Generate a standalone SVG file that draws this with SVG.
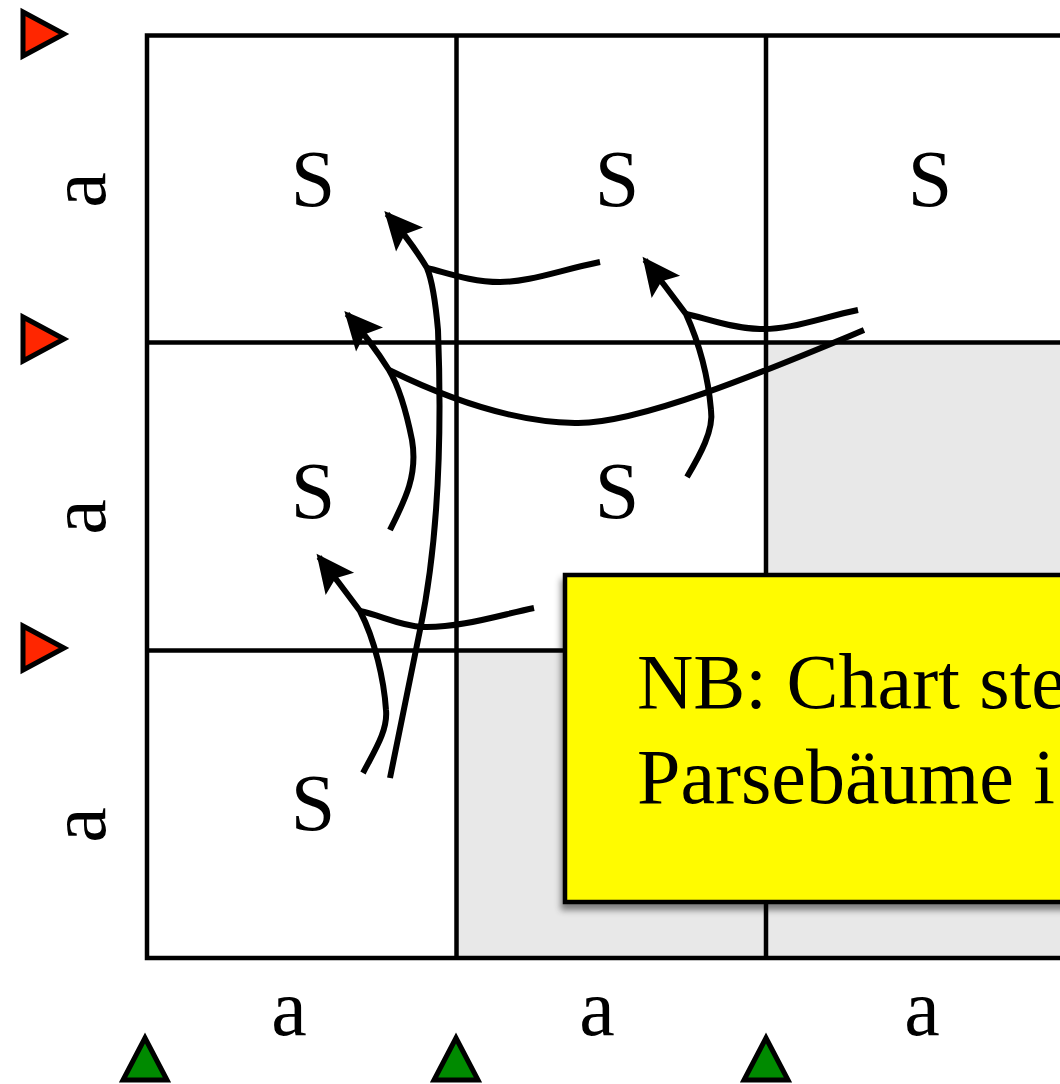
<svg xmlns="http://www.w3.org/2000/svg" width="1060" height="1084" viewBox="0 0 1060 1084">
<style>
.grid{fill:none;stroke:#000;stroke-width:4.5}
.grey{fill:#e8e8e8}
.lbl{font-family:"Liberation Serif","Times New Roman",serif;font-size:80px;fill:#000;text-anchor:middle}
.note{font-family:"Liberation Serif","Times New Roman",serif;font-size:78px;fill:#000}
.red{fill:#ff2600;stroke:#000;stroke-width:5;stroke-linejoin:miter}
.green{fill:#008a00;stroke:#000;stroke-width:5;stroke-linejoin:miter}
.con{fill:none;stroke:#000;stroke-width:6;stroke-linecap:butt}
</style>
<defs>
<marker id="ah" markerUnits="userSpaceOnUse" viewBox="-44 -22 48 44" markerWidth="48" markerHeight="44" refX="-4" refY="0" orient="auto" overflow="visible">
<path d="M0,0 L-38,-18 L-31,0 L-38,18 Z" fill="#000"/>
</marker>
<filter id="sh" x="-10%" y="-10%" width="130%" height="130%">
<feDropShadow dx="-2" dy="6" stdDeviation="3" flood-color="#000" flood-opacity="0.45"/>
</filter>
</defs>
<rect width="1060" height="1084" fill="#fff"/>
<g id="grid">
<rect class="grey" x="766" y="342.5" width="320" height="308"/>
<rect class="grey" x="456.5" y="650.5" width="630" height="307.5"/>
<rect class="grid" x="147" y="35.5" width="1000" height="922.5"/>
<line class="grid" x1="456.5" y1="35.5" x2="456.5" y2="958"/>
<line class="grid" x1="766" y1="35.5" x2="766" y2="958"/>
<line class="grid" x1="147" y1="342.5" x2="1100" y2="342.5"/>
<line class="grid" x1="147" y1="650.5" x2="1100" y2="650.5"/>
</g>
<g id="cells">
<text class="lbl" x="313" y="206">S</text>
<text class="lbl" x="617" y="206">S</text>
<text class="lbl" x="930" y="206">S</text>
<text class="lbl" x="313" y="518">S</text>
<text class="lbl" x="617" y="518">S</text>
<text class="lbl" x="313" y="830">S</text>
</g>
<g id="row-labels">
<text class="lbl" transform="translate(105,190) rotate(-90)">a</text>
<text class="lbl" transform="translate(105,517) rotate(-90)">a</text>
<text class="lbl" transform="translate(105,825) rotate(-90)">a</text>
</g>
<g id="col-labels">
<text class="lbl" x="289" y="1035">a</text>
<text class="lbl" x="597" y="1035">a</text>
<text class="lbl" x="922" y="1035">a</text>
</g>
<g id="red-markers">
<polygon class="red" points="23,12 23,56 64,34"/>
<polygon class="red" points="23,317 23,361 64,339"/>
<polygon class="red" points="23,626 23,670 64,648"/>
</g>
<g id="green-markers">
<polygon class="green" points="145,1038 123,1080 167,1080"/>
<polygon class="green" points="456,1038 434,1080 478,1080"/>
<polygon class="green" points="766,1038 744,1080 788,1080"/>
</g>
<g id="connectors">
<path class="con" d="M390,778 L420,630 Q445,510 438,330 Q434,285 427,268 Q410,240 387,214" marker-end="url(#ah)"/>
<path class="con" d="M600,262 C560,270 530,282 500,282 C470,282 445,272 427,268"/>
<path class="con" d="M390,530 C405,500 418,475 412,440 C406,410 398,385 389,370 Q370,340 347,314" marker-end="url(#ah)"/>
<path class="con" d="M864,330 C780,365 640,425 575,423 C510,422 440,395 389,370"/>
<path class="con" d="M687,477 C700,455 714,430 711,410 C708,375 700,345 686,314 Q666,287 645,260" marker-end="url(#ah)"/>
<path class="con" d="M858,310 C820,318 790,330 760,329 C730,328 705,318 686,314"/>
<path class="con" d="M363,773 C375,750 388,730 386,710 C384,680 375,640 360,611 Q340,584 319,557" marker-end="url(#ah)"/>
<path class="con" d="M534,608 C500,615 460,628 423,627 C400,626 380,615 360,611"/>
</g>
<g id="note">
<rect x="565" y="575" width="560" height="327" fill="#fffb00" stroke="#000" stroke-width="4.5" filter="url(#sh)"/>
<text class="note" x="637" y="708">NB: Chart ste</text>
<text class="note" x="637" y="803">Parsebäume i</text>
</g>
</svg>
